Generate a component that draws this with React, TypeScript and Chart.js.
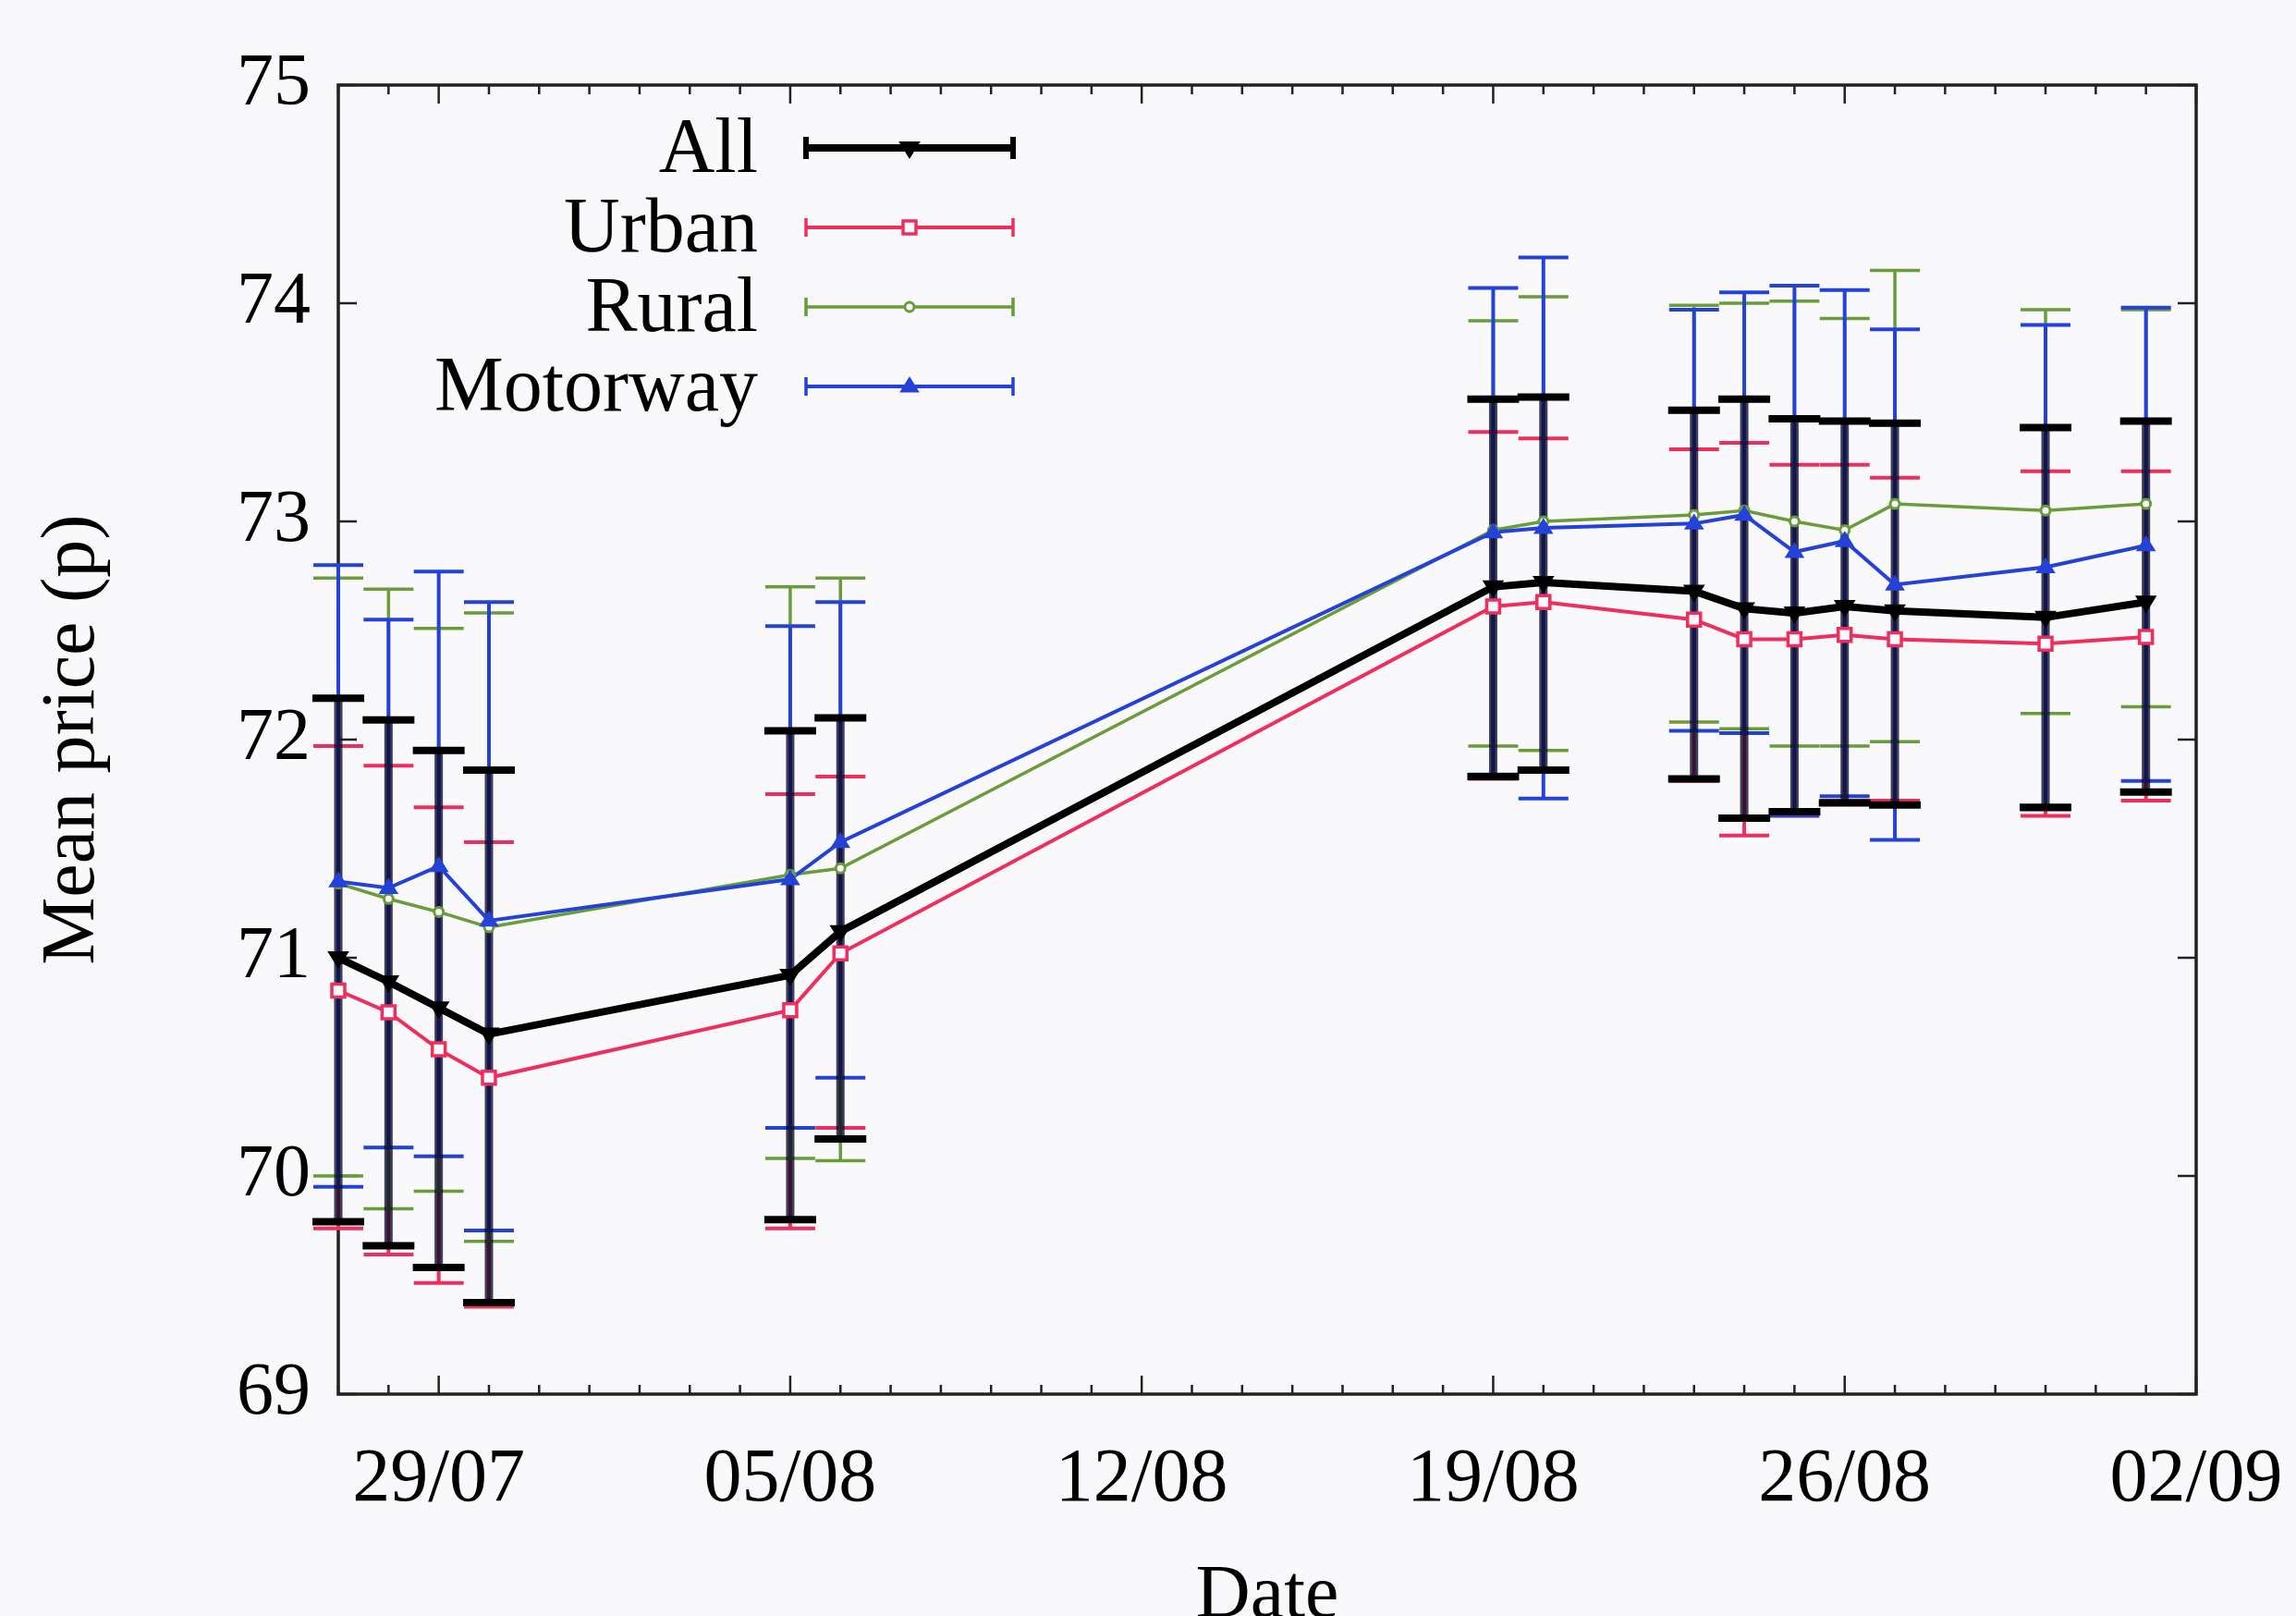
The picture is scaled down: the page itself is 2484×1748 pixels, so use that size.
import React, { useEffect, useRef } from "react";
import { Chart, registerables } from "chart.js";

Chart.register(...registerables);

// ---- Data ----
const dateLabels = ["27/07", "28/07", "29/07", "30/07", "05/08", "06/08", "19/08", "20/08", "23/08", "24/08", "25/08", "26/08", "27/08", "30/08", "01/09"];
const dayOffsets = [0, 1, 2, 3, 9, 10, 23, 24, 27, 28, 29, 30, 31, 34, 36];

const allMean = [71.0, 70.89, 70.77, 70.65, 70.92, 71.12, 72.7, 72.72, 72.68, 72.6, 72.58, 72.61, 72.59, 72.56, 72.63];
const allHigh = [72.19, 72.09, 71.95, 71.86, 72.04, 72.1, 73.56, 73.57, 73.51, 73.56, 73.47, 73.46, 73.45, 73.43, 73.46];
const allLow = [69.79, 69.68, 69.58, 69.42, 69.8, 70.17, 71.83, 71.86, 71.82, 71.64, 71.67, 71.71, 71.7, 71.69, 71.76];

const urbanMean = [70.85, 70.75, 70.58, 70.45, 70.76, 71.02, 72.61, 72.63, 72.55, 72.46, 72.46, 72.48, 72.46, 72.44, 72.47];
const urbanHigh = [71.97, 71.88, 71.69, 71.53, 71.75, 71.83, 73.41, 73.38, 73.33, 73.36, 73.26, 73.26, 73.2, 73.23, 73.23];
const urbanLow = [69.76, 69.64, 69.51, 69.4, 69.76, 70.22, 71.82, 71.86, 71.81, 71.56, 71.66, 71.72, 71.72, 71.65, 71.72];

const ruralMean = [71.34, 71.27, 71.21, 71.14, 71.38, 71.41, 72.96, 73.0, 73.03, 73.05, 73.0, 72.96, 73.08, 73.05, 73.08];
const ruralHigh = [72.74, 72.69, 72.51, 72.58, 72.7, 72.74, 73.92, 74.03, 73.99, 74.0, 74.01, 73.93, 74.15, 73.97, 73.97];
const ruralLow = [70.0, 69.85, 69.93, 69.7, 70.08, 70.07, 71.97, 71.95, 72.08, 72.05, 71.97, 71.97, 71.99, 72.12, 72.15];

const motorwayMean = [71.35, 71.32, 71.42, 71.17, 71.36, 71.53, 72.95, 72.97, 72.99, 73.03, 72.86, 72.91, 72.71, 72.79, 72.89];
const motorwayHigh = [72.8, 72.55, 72.77, 72.63, 72.52, 72.63, 74.07, 74.21, 73.97, 74.05, 74.08, 74.06, 73.88, 73.9, 73.98];
const motorwayLow = [69.95, 70.13, 70.09, 69.75, 70.22, 70.45, 71.84, 71.73, 72.04, 72.03, 71.65, 71.74, 71.54, 71.68, 71.81];

const xTickDays = [2, 9, 16, 23, 30, 37];
const xTickLabels = ["29/07", "05/08", "12/08", "19/08", "26/08", "02/09"];
const xMin = 0;
const xMax = 37;
const yMin = 69;
const yMax = 75;

const seriesNames = ["All", "Urban", "Rural", "Motorway"];
const seriesColors = ["#000000", "#ee2f5e", "#6a9c3a", "#2442d8"];

// ---- Styles ----
const FONT = '"Liberation Serif", "Times New Roman", serif';
const BG = "#f9f9fc";

type SeriesStyle = {
  lineWidth: number;
  marker: "tri-down" | "square" | "circle" | "tri-up";
  radius: number;
  filled: boolean;
  markerBorder: number;
  barWidth: number;
  capWidth: number;
  capLine: number;
};

const styles: SeriesStyle[] = [
  { lineWidth: 8, marker: "tri-down", radius: 10, filled: true, markerBorder: 2, barWidth: 9, capWidth: 56, capLine: 8 },
  { lineWidth: 4, marker: "square", radius: 7, filled: false, markerBorder: 3.5, barWidth: 4, capWidth: 54, capLine: 4 },
  { lineWidth: 3.5, marker: "circle", radius: 5, filled: false, markerBorder: 3, barWidth: 3.5, capWidth: 54, capLine: 3.5 },
  { lineWidth: 4, marker: "tri-up", radius: 9, filled: true, markerBorder: 2, barWidth: 4, capWidth: 54, capLine: 4 },
];

const means = [allMean, urbanMean, ruralMean, motorwayMean];
const highs = [allHigh, urbanHigh, ruralHigh, motorwayHigh];
const lows = [allLow, urbanLow, ruralLow, motorwayLow];

function drawMarker(ctx: CanvasRenderingContext2D, idx: number, x: number, y: number) {
  const s = styles[idx];
  const c = seriesColors[idx];
  const r = s.radius;
  ctx.save();
  ctx.beginPath();
  if (s.marker === "tri-down") {
    ctx.moveTo(x - r, y - r * 0.6);
    ctx.lineTo(x + r, y - r * 0.6);
    ctx.lineTo(x, y + r);
    ctx.closePath();
  } else if (s.marker === "tri-up") {
    ctx.moveTo(x - r, y + r * 0.6);
    ctx.lineTo(x + r, y + r * 0.6);
    ctx.lineTo(x, y - r);
    ctx.closePath();
  } else if (s.marker === "square") {
    ctx.rect(x - r, y - r, 2 * r, 2 * r);
  } else {
    ctx.arc(x, y, r, 0, Math.PI * 2);
  }
  ctx.fillStyle = s.filled ? c : BG;
  ctx.fill();
  ctx.lineWidth = s.markerBorder;
  ctx.strokeStyle = c;
  ctx.stroke();
  ctx.restore();
}

const backgroundPlugin = {
  id: "bg",
  beforeDraw(chart: any) {
    const ctx = chart.ctx;
    ctx.save();
    ctx.fillStyle = BG;
    ctx.fillRect(0, 0, chart.width, chart.height);
    ctx.restore();
  },
};

const frameAndErrorPlugin = {
  id: "frameErr",
  beforeDatasetsDraw(chart: any) {
    const { ctx, chartArea: a, scales } = chart;
    const xs = scales.x;
    const ys = scales.y;
    ctx.save();
    // frame
    ctx.strokeStyle = "#222";
    ctx.lineWidth = 3.5;
    ctx.strokeRect(a.left, a.top, a.right - a.left, a.bottom - a.top);
    // inward ticks
    ctx.lineWidth = 2.5;
    xs.ticks.forEach((t: any) => {
      const px = xs.getPixelForValue(t.value);
      const major = xTickDays.includes(t.value);
      const len = major ? 20 : 10;
      ctx.beginPath();
      ctx.moveTo(px, a.bottom);
      ctx.lineTo(px, a.bottom - len);
      ctx.moveTo(px, a.top);
      ctx.lineTo(px, a.top + len);
      ctx.stroke();
    });
    ys.ticks.forEach((t: any) => {
      const py = ys.getPixelForValue(t.value);
      ctx.beginPath();
      ctx.moveTo(a.left, py);
      ctx.lineTo(a.left + 20, py);
      ctx.moveTo(a.right, py);
      ctx.lineTo(a.right - 20, py);
      ctx.stroke();
    });

    // coloured error bars (Urban, Rural, Motorway)
    for (let si = 1; si < 4; si++) {
      const s = styles[si];
      ctx.strokeStyle = seriesColors[si];
      for (let i = 0; i < dayOffsets.length; i++) {
        const px = xs.getPixelForValue(dayOffsets[i]);
        const yh = ys.getPixelForValue(highs[si][i]);
        const yl = ys.getPixelForValue(lows[si][i]);
        ctx.lineWidth = s.barWidth;
        ctx.beginPath();
        ctx.moveTo(px, yh);
        ctx.lineTo(px, yl);
        ctx.stroke();
        ctx.lineWidth = s.capLine;
        ctx.beginPath();
        ctx.moveTo(px - s.capWidth / 2, yh);
        ctx.lineTo(px + s.capWidth / 2, yh);
        ctx.moveTo(px - s.capWidth / 2, yl);
        ctx.lineTo(px + s.capWidth / 2, yl);
        ctx.stroke();
      }
    }
    // black (All) error bars, semi-opaque verticals
    const s0 = styles[0];
    for (let i = 0; i < dayOffsets.length; i++) {
      const px = xs.getPixelForValue(dayOffsets[i]);
      const yh = ys.getPixelForValue(highs[0][i]);
      const yl = ys.getPixelForValue(lows[0][i]);
      ctx.strokeStyle = "rgba(10,10,40,0.78)";
      ctx.lineWidth = s0.barWidth;
      ctx.beginPath();
      ctx.moveTo(px, yh);
      ctx.lineTo(px, yl);
      ctx.stroke();
      ctx.strokeStyle = "#000";
      ctx.lineWidth = s0.capLine;
      ctx.beginPath();
      ctx.moveTo(px - s0.capWidth / 2, yh);
      ctx.lineTo(px + s0.capWidth / 2, yh);
      ctx.moveTo(px - s0.capWidth / 2, yl);
      ctx.lineTo(px + s0.capWidth / 2, yl);
      ctx.stroke();
    }
    ctx.restore();
  },
  afterDatasetsDraw(chart: any) {
    const { ctx, scales } = chart;
    const xs = scales.x;
    const ys = scales.y;
    for (let si = 0; si < 4; si++) {
      for (let i = 0; i < dayOffsets.length; i++) {
        drawMarker(ctx, si, xs.getPixelForValue(dayOffsets[i]), ys.getPixelForValue(means[si][i]));
      }
    }
  },
};

const legendPlugin = {
  id: "customLegend",
  afterDraw(chart: any) {
    const { ctx, chartArea: a } = chart;
    const textRight = a.left + 454;
    const x0 = a.left + 506;
    const x1 = a.left + 730;
    const y0 = a.top + 68;
    const dy = 86;
    ctx.save();
    seriesNames.forEach((name, i) => {
      const y = y0 + i * dy;
      const s = styles[i];
      ctx.font = `84px ${FONT}`;
      ctx.textAlign = "right";
      ctx.textBaseline = "middle";
      ctx.fillStyle = "#000";
      ctx.fillText(name, textRight, y + 4);
      ctx.strokeStyle = seriesColors[i];
      ctx.lineWidth = s.lineWidth;
      ctx.beginPath();
      ctx.moveTo(x0, y);
      ctx.lineTo(x1, y);
      ctx.stroke();
      const capH = i === 0 ? 12 : 10;
      ctx.lineWidth = i === 0 ? 6 : 3.5;
      ctx.beginPath();
      ctx.moveTo(x0, y - capH);
      ctx.lineTo(x0, y + capH);
      ctx.moveTo(x1, y - capH);
      ctx.lineTo(x1, y + capH);
      ctx.stroke();
      drawMarker(ctx, i, (x0 + x1) / 2, y);
    });
    ctx.restore();
  },
};

export default function App() {
  const canvasRef = useRef<HTMLCanvasElement | null>(null);

  useEffect(() => {
    const canvas = canvasRef.current;
    if (!canvas) return;
    const datasets = seriesNames.map((name, si) => ({
      label: name,
      data: dayOffsets.map((d, i) => ({ x: d, y: means[si][i] })),
      borderColor: seriesColors[si],
      backgroundColor: seriesColors[si],
      borderWidth: styles[si].lineWidth,
      pointRadius: 0,
      tension: 0,
      fill: false,
      order: 4 - si,
    }));

    const chart = new Chart(canvas, {
      type: "line",
      data: { datasets },
      options: {
        animation: false,
        responsive: false,
        devicePixelRatio: 1,
        layout: { padding: { left: 0, top: 92, right: 108, bottom: 0 } },
        plugins: {
          legend: { display: false },
          tooltip: { enabled: false },
        },
        scales: {
          x: {
            type: "linear",
            min: xMin,
            max: xMax,
            grid: { display: false, drawTicks: false },
            border: { display: false },
            ticks: {
              stepSize: 1,
              autoSkip: false,
              maxRotation: 0,
              minRotation: 0,
              padding: 44,
              color: "#000",
              font: { family: FONT, size: 82 },
              callback: (v: any) => {
                const k = xTickDays.indexOf(Number(v));
                return k >= 0 ? xTickLabels[k] : "";
              },
            },
            title: {
              display: true,
              text: "Date",
              color: "#000",
              font: { family: FONT, size: 82, lineHeight: 1 },
              padding: { top: 0, bottom: -20 },
            },
            afterFit: (s: any) => {
              s.height = 240;
              s.paddingLeft = 0;
              s.paddingRight = 0;
            },
          },
          y: {
            type: "linear",
            min: yMin,
            max: yMax,
            grid: { display: false, drawTicks: false },
            border: { display: false },
            ticks: {
              stepSize: 1,
              padding: 30,
              color: "#000",
              font: { family: FONT, size: 80 },
            },
            title: {
              display: true,
              text: "Mean price (p)",
              color: "#000",
              font: { family: FONT, size: 82, lineHeight: 1 },
              padding: { top: 38, bottom: 0 },
            },
            afterFit: (s: any) => {
              s.width = 366;
              s.paddingTop = 0;
              s.paddingBottom = 0;
            },
          },
        },
      },
      plugins: [backgroundPlugin, frameAndErrorPlugin, legendPlugin],
    });
    return () => chart.destroy();
  }, []);

  return (
    <div style={{ position: "fixed", left: 0, top: 0, width: 2484, height: 1748, background: BG }}>
      <canvas ref={canvasRef} width={2484} height={1748} style={{ display: "block", width: 2484, height: 1748 }} />
    </div>
  );
}
